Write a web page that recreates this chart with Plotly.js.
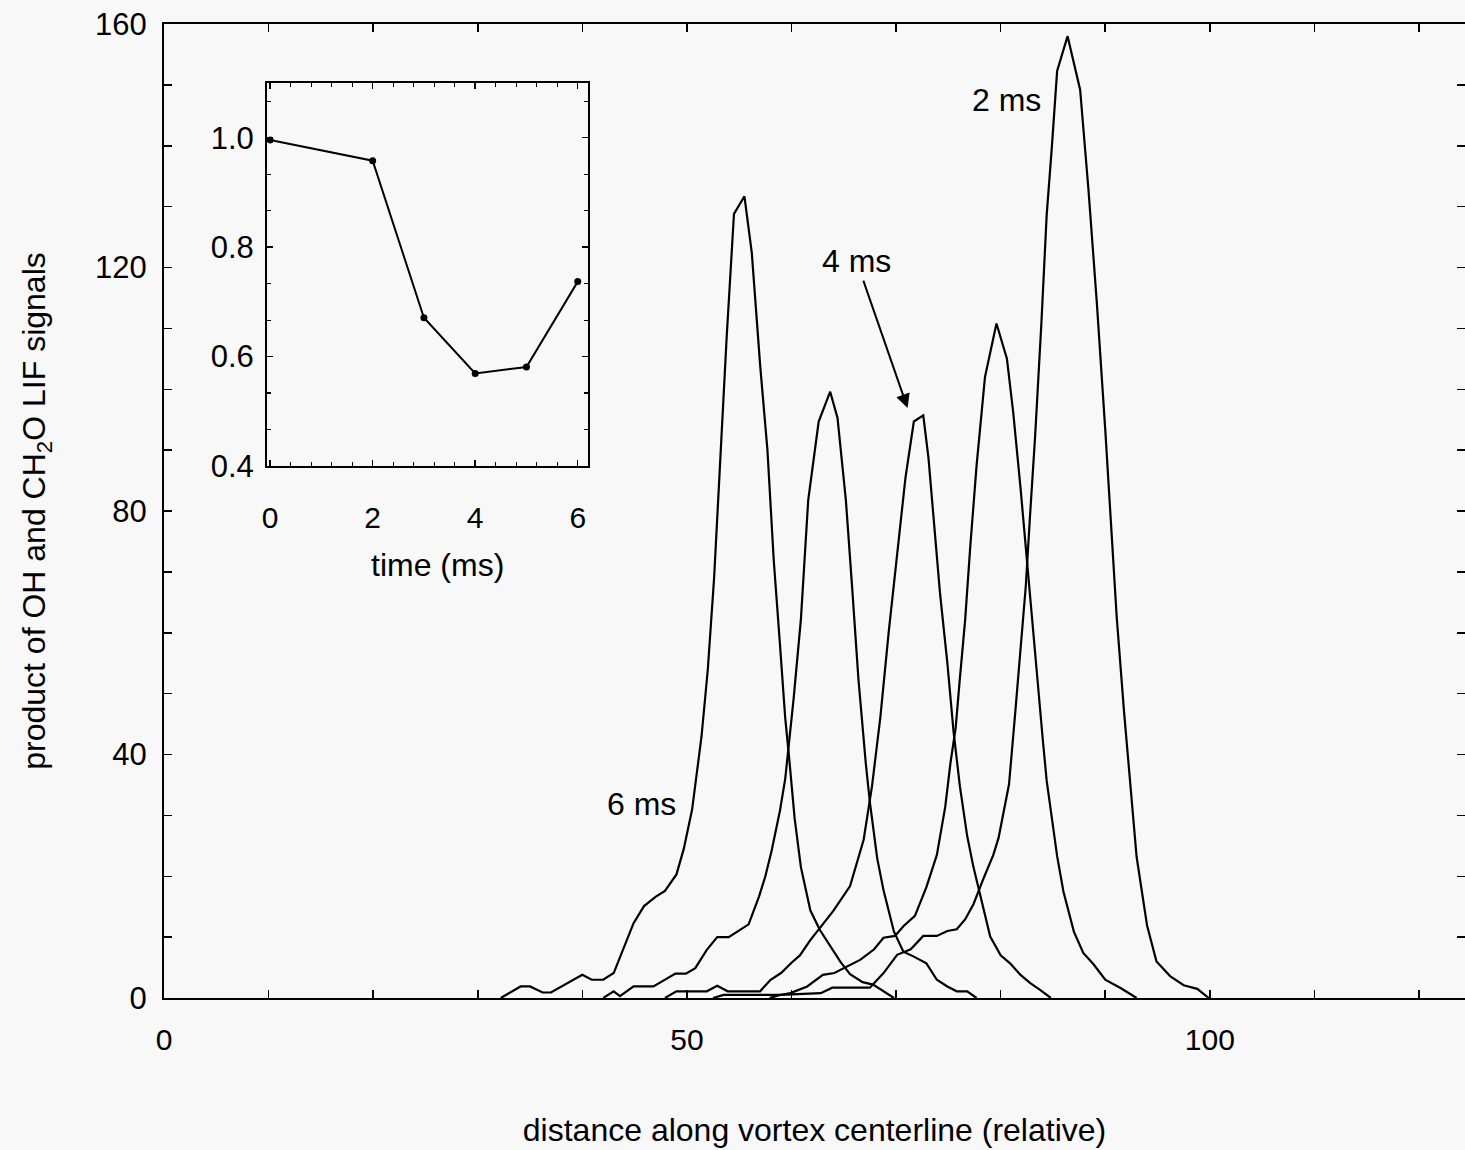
<!DOCTYPE html>
<html>
<head>
<meta charset="utf-8">
<script src="https://cdn.plot.ly/plotly-3.0.1.min.js"></script>
<style>
html,body{margin:0;padding:0;background:#f8f8f8;overflow:hidden;}
#chart{width:1465px;height:1150px;}
</style>
</head>
<body>
<div id="chart"></div>
<script>
// ---- main plot: product of OH and CH2O LIF signals vs distance ----
const x2ms = [57.9,58.9,62.8,63.9,67.5,68.8,70.1,71.4,72.6,73.9,74.9,75.8,76.6,77.4,78.4,79.3,79.8,80.8,81.4,81.9,82.4,82.8,83.3,83.9,84.4,84.9,85.4,86.4,87.6,88.4,89.2,90.0,90.6,91.1,91.8,92.4,93.0,94.0,94.9,96.2,97.5,98.8,99.9];
const y2ms = [0,0.5,0.8,1.7,1.7,4.1,7.1,8.0,10.2,10.2,11.0,11.3,12.9,15.4,19.8,23.5,26.3,35.1,47,57.3,67.6,79,92.4,111,128.6,139.9,152.3,158,149.2,132.7,114.1,93.4,75.9,62.5,47,35.6,23.2,11.9,6.0,3.6,2.1,1.5,0];

const x3ms = [52.5,53.5,58.9,59.9,61.5,63.0,64.1,65.4,66.6,67.9,68.8,69.9,70.7,71.8,72.9,73.9,74.7,75.2,75.7,76.1,76.6,77.1,77.7,78.5,79.6,80.6,81.2,81.9,82.5,83.0,83.5,84.0,84.4,84.9,85.4,86.0,87.0,87.9,88.9,90.0,91.5,93.0];
const y3ms = [0,0.5,0.5,0.8,1.9,3.8,4.1,5.3,6.3,8.0,9.9,10.2,11.8,13.5,18.2,23.5,31.4,38.6,44.4,52.5,62,74.3,87.5,102,110.8,105,96.2,83.8,72.2,62,51.7,43,35.7,29.1,23.3,17.5,10.9,7.4,5.5,3.0,1.6,0];

const x4ms = [47.9,49.0,51.9,52.9,53.9,57.0,58.0,59.0,60.0,60.8,61.8,62.8,64.0,65.6,66.9,67.7,68.5,69.3,70.1,70.9,71.7,72.6,73.1,73.6,74.2,74.9,75.5,76.1,76.8,77.4,78.1,79.0,80.0,80.9,81.9,82.8,83.8,84.8];
const y4ms = [0,1.1,1.1,2.0,1.1,1.1,3.0,4.1,5.8,7.0,9.5,11.7,14.3,18.4,26,34.8,46.2,60.2,72.9,85.5,94.7,95.7,88.7,79.2,66.5,55.1,43.7,34.8,26.6,21.5,16.5,10.1,7.0,5.7,3.8,2.5,1.3,0];

const x5ms = [42.0,43.0,43.6,44.9,46.8,48.9,49.9,50.8,51.9,52.9,54.0,55.9,56.9,57.5,58.1,58.9,59.4,59.7,60.2,60.9,61.6,62.6,63.7,64.4,65.2,65.8,66.4,67.1,67.5,68.2,68.8,69.8,70.7,71.7,72.9,73.9,74.9,75.8,76.8,77.7];
const y5ms = [0,1.1,0.3,1.9,1.9,4.0,4.0,4.9,7.9,10.0,10.0,12.1,16.7,20,24.2,30.8,36,40.6,49.1,62.2,81.8,94.7,99.6,95.3,81.8,67.4,52.4,38.6,32.1,22.9,17.7,10.9,7.6,6.8,5.7,3.0,1.9,1.1,1.1,0];

const x6ms = [32.2,34.1,35.0,36.2,37.0,40.0,40.9,42.0,43.0,44.0,44.9,45.9,47.0,47.9,49.0,49.7,50.5,51.4,52.0,52.6,53.2,53.8,54.5,55.5,56.2,57.0,57.7,58.3,58.9,59.4,59.8,60.3,60.9,61.8,62.7,63.7,64.7,65.6,66.8,67.8,68.7,69.8];
const y6ms = [0,1.9,1.9,0.9,0.9,3.8,3.0,3.0,4.1,8.5,12.3,15.1,16.6,17.6,20.3,24.5,31,43,54,69,89.5,108.5,128.8,131.7,122.5,104,90,72,58,46,39,29.5,21.5,14.4,11.2,8.5,5.9,3.9,2.6,2.2,1.2,0];

const mainXTicks = [0,50,100];
const mainYTicks = [0,40,80,120,160];

// ---- inset: relative value vs time ----
const insetTime = [0,2,3,4,5,6];
const insetValue = [0.996,0.958,0.671,0.569,0.581,0.737];
const insetXTicks = [0,2,4,6];
const insetYTicks = [0.4,0.6,0.8,1.0];
const insetYTickText = ['0.4','0.6','0.8','1.0'];

const FONT = 'Liberation Sans, Arial, Helvetica, sans-serif';
const lineStyle = {color:'#000', width:2.2};

const traces = [
  {x:x2ms, y:y2ms, name:'2 ms'},
  {x:x3ms, y:y3ms, name:'3 ms'},
  {x:x4ms, y:y4ms, name:'4 ms'},
  {x:x5ms, y:y5ms, name:'5 ms'},
  {x:x6ms, y:y6ms, name:'6 ms'}
].map(t => Object.assign(t, {type:'scatter', mode:'lines', line:lineStyle, xaxis:'x', yaxis:'y', hoverinfo:'x+y'}));

traces.push({
  type:'scatter', mode:'lines+markers', x:insetTime, y:insetValue,
  xaxis:'x2', yaxis:'y2', line:{color:'#000', width:2}, marker:{color:'#000', size:7}
});

const layout = {
  width:1465, height:1150,
  margin:{l:164, r:0, t:24, b:152},
  paper_bgcolor:'#f8f8f8', plot_bgcolor:'#f8f8f8',
  showlegend:false,
  font:{family:FONT, color:'#000', size:30},
  xaxis:{
    range:[0,124.4], domain:[0,1],
    tickmode:'array', tickvals:mainXTicks,
    ticks:'inside', ticklen:8, tickwidth:1.5, tickcolor:'#000',
    minor:{dtick:10, tick0:0, ticks:'inside', ticklen:8, tickwidth:1.5, tickcolor:'#000'},
    showline:true, linecolor:'#000', linewidth:2, mirror:'ticks',
    showgrid:false, zeroline:false,
    tickfont:{size:30, family:FONT}, ticklabelstandoff:14,
    title:{text:'distance along vortex centerline (relative)', font:{size:32, family:FONT}, standoff:64}
  },
  yaxis:{
    range:[0,160], domain:[0,1],
    tickmode:'array', tickvals:mainYTicks,
    ticks:'inside', ticklen:8, tickwidth:1.5, tickcolor:'#000',
    minor:{dtick:10, tick0:0, ticks:'inside', ticklen:8, tickwidth:1.5, tickcolor:'#000'},
    showline:true, linecolor:'#000', linewidth:2, mirror:'ticks',
    showgrid:false, zeroline:false,
    tickfont:{size:31, family:FONT}, ticklabelstandoff:9,
    title:{text:'product of OH and CH<sub>2</sub>O LIF signals', font:{size:32, family:FONT}, standoff:40}
  },
  xaxis2:{
    anchor:'y2', domain:[0.0792,0.3259], range:[-0.06,6.2],
    tickmode:'array', tickvals:insetXTicks,
    ticks:'inside', ticklen:6, tickwidth:1.5, tickcolor:'#000',
    minor:{dtick:0.4, tick0:0, ticks:'inside', ticklen:4, tickwidth:1.2, tickcolor:'#000'},
    showline:true, linecolor:'#000', linewidth:2, mirror:'ticks',
    showgrid:false, zeroline:false,
    tickfont:{size:30, family:FONT}, ticklabelstandoff:24
  },
  yaxis2:{
    anchor:'x2', domain:[0.5462,0.9394], range:[0.4,1.1],
    tickmode:'array', tickvals:insetYTicks, ticktext:insetYTickText,
    ticks:'inside', ticklen:6, tickwidth:1.5, tickcolor:'#000',
    minor:{dtick:0.2/3, tick0:0.4, ticks:'inside', ticklen:4, tickwidth:1.2, tickcolor:'#000'},
    showline:true, linecolor:'#000', linewidth:2, mirror:'ticks',
    showgrid:false, zeroline:false,
    tickfont:{size:31, family:FONT}, ticklabelstandoff:5
  },
  annotations:[
    {xref:'paper', yref:'paper', x:0.2106, y:0.4446, text:'time (ms)', showarrow:false,
     xanchor:'center', yanchor:'middle', font:{size:32, family:FONT}},
    {xref:'x', yref:'y', x:80.6, y:147.5, text:'2 ms', showarrow:false, font:{size:32, family:FONT}},
    {xref:'x', yref:'y', x:71.1, y:96.9, ax:-51, ay:-147, text:'4 ms', showarrow:true,
     arrowhead:2, arrowsize:1.4, arrowwidth:2, arrowcolor:'#000', standoff:0, font:{size:32, family:FONT}},
    {xref:'x', yref:'y', x:45.7, y:31.8, text:'6 ms', showarrow:false, font:{size:32, family:FONT}}
  ]
};

Plotly.newPlot('chart', traces, layout, {staticPlot:true, displayModeBar:false});
</script>
</body>
</html>
